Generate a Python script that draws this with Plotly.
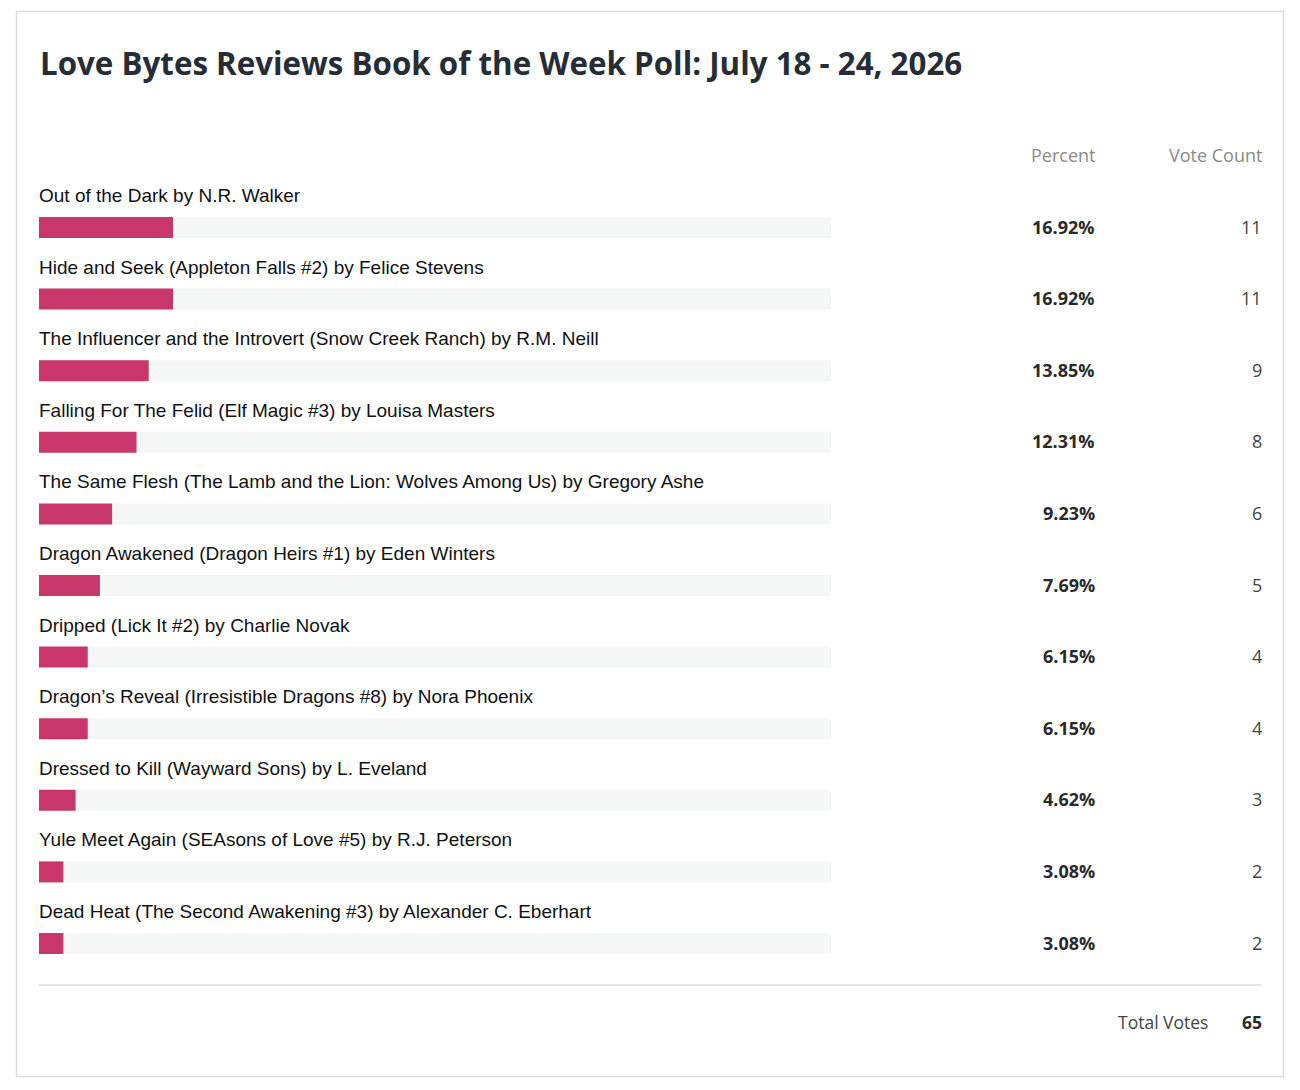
import plotly.graph_objects as go

# poll results
books = [
    "Out of the Dark by N.R. Walker",
    "Hide and Seek (Appleton Falls #2) by Felice Stevens",
    "The Influencer and the Introvert (Snow Creek Ranch) by R.M. Neill",
    "Falling For The Felid (Elf Magic #3) by Louisa Masters",
    "The Same Flesh (The Lamb and the Lion: Wolves Among Us) by Gregory Ashe",
    "Dragon Awakened (Dragon Heirs #1) by Eden Winters",
    "Dripped (Lick It #2) by Charlie Novak",
    "Dragon’s Reveal (Irresistible Dragons #8) by Nora Phoenix",
    "Dressed to Kill (Wayward Sons) by L. Eveland",
    "Yule Meet Again (SEAsons of Love #5) by R.J. Peterson",
    "Dead Heat (The Second Awakening #3) by Alexander C. Eberhart",
]
percents = [16.92, 16.92, 13.85, 12.31, 9.23, 7.69, 6.15, 6.15, 4.62, 3.08, 3.08]
votes = [11, 11, 9, 8, 6, 5, 4, 4, 3, 2, 2]
total_votes = 65
title = "Love Bytes Reviews Book of the Week Poll: July 18 - 24, 2026"

W, H = 1300, 1090
row_px = 71.6
first_bar_px = 227.5
# y axis in row units, reversed so row 0 is on top
y_top = -first_bar_px / row_px
y_bot = (H - first_bar_px) / row_px

rows = list(range(len(books)))
bar_w = 21 / row_px

fig = go.Figure()
fig.add_trace(go.Bar(x=[100] * len(rows), y=rows, orientation="h", width=bar_w,
                     marker=dict(color="#f5f6f6", line=dict(width=0)), hoverinfo="skip"))
fig.add_trace(go.Bar(x=percents, y=rows, orientation="h", width=bar_w,
                     marker=dict(color="#c8366b", line=dict(width=0)),
                     hovertemplate="%{x:.2f}%<extra></extra>"))

num_font = "Open Sans, Noto Sans, sans-serif"
label_font = "Liberation Sans, Arial, sans-serif"

ann = []
for i, (b, p, v) in enumerate(zip(books, percents, votes)):
    ann.append(dict(x=0, y=i - 32 / row_px, xref="x", yref="y", text=b, showarrow=False, xshift=-2,
                    xanchor="left", yanchor="middle", font=dict(family=label_font, size=19, color="#111111")))
    ann.append(dict(x=1094 / W, y=i, xref="paper", yref="y", text="<b>%.2f%%</b>" % p, showarrow=False,
                    xshift=3, yshift=1, xanchor="right", yanchor="middle",
                    font=dict(family=num_font, size=18, color="#2a2a2a")))
    ann.append(dict(x=1261 / W, y=i, xref="paper", yref="y", text=str(v), showarrow=False,
                    xshift=3, yshift=1, xanchor="right", yanchor="middle",
                    font=dict(family=num_font, size=18, color="#444444")))

# headers, title, footer
ann.append(dict(x=1094 / W, y=1 - 155 / H, xref="paper", yref="paper", text="Percent", showarrow=False,
                xshift=3, xanchor="right", yanchor="middle", font=dict(family=num_font, size=18, color="#8a8a8a")))
ann.append(dict(x=1261 / W, y=1 - 155 / H, xref="paper", yref="paper", text="Vote Count", showarrow=False,
                xshift=3, xanchor="right", yanchor="middle", font=dict(family=num_font, size=18, color="#8a8a8a")))
ann.append(dict(x=38 / W, y=1 - 63 / H, xref="paper", yref="paper", text="<b>" + title + "</b>", showarrow=False,
                xanchor="left", yanchor="middle", font=dict(family=num_font, size=31.3, color="#262d36")))
ann.append(dict(x=1207 / W, y=1 - 1022 / H, xref="paper", yref="paper", text="Total Votes", showarrow=False,
                xshift=3, xanchor="right", yanchor="middle", font=dict(family=num_font, size=17.5, color="#444444")))
ann.append(dict(x=1261 / W, y=1 - 1022 / H, xref="paper", yref="paper", text="<b>%d</b>" % total_votes,
                showarrow=False, xshift=3, xanchor="right", yanchor="middle",
                font=dict(family=num_font, size=17.5, color="#2a2a2a")))

shapes = [
    dict(type="rect", xref="paper", yref="paper", x0=16.5 / W, x1=1283.5 / W, y0=1 - 1076.5 / H, y1=1 - 11.5 / H,
         line=dict(color="#dddddd", width=1.5), fillcolor="rgba(0,0,0,0)", layer="below"),
    dict(type="line", xref="paper", yref="paper", x0=39 / W, x1=1261 / W, y0=1 - 985 / H, y1=1 - 985 / H,
         line=dict(color="#dddddd", width=1.5)),
]

fig.update_layout(
    width=W, height=H, margin=dict(l=0, r=0, t=0, b=0),
    paper_bgcolor="white", plot_bgcolor="white",
    barmode="overlay", showlegend=False,
    xaxis=dict(domain=[39 / W, 831 / W], range=[0, 100], visible=False, fixedrange=True),
    yaxis=dict(domain=[0, 1], range=[y_bot, y_top], visible=False, fixedrange=True),
    annotations=ann, shapes=shapes,
)

# drop the default page margin so the figure sits at the window's corner
fig.write_html("out.html", config={"displayModeBar": False},
               post_script="document.body.style.margin='0';document.body.style.overflow='hidden';")
